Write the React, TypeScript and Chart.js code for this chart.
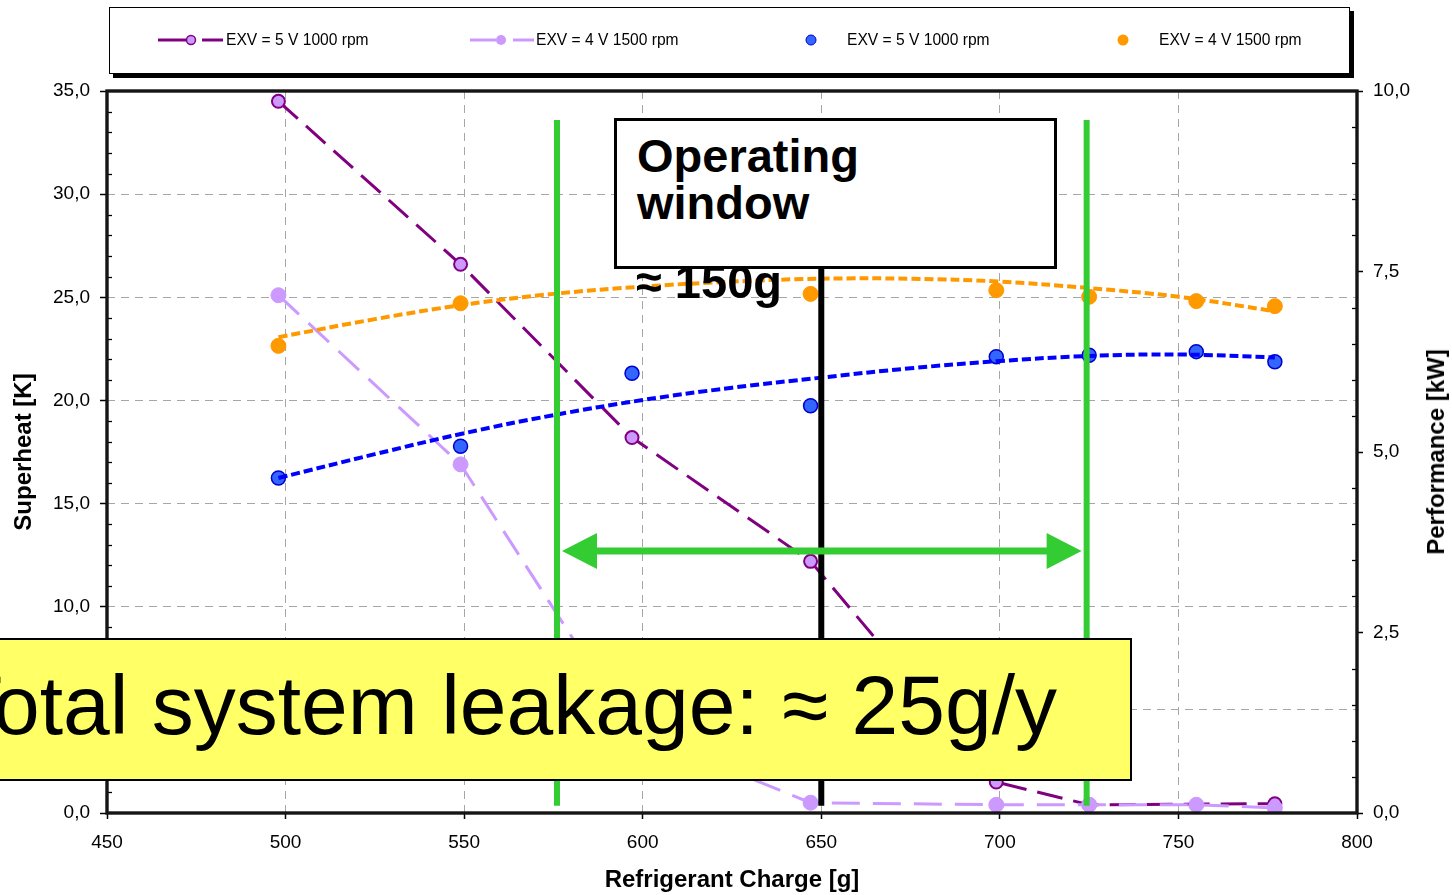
import React, { useEffect, useRef } from 'react';
import { Chart, registerables } from 'chart.js';

Chart.register(...registerables);

// ---------- data ----------
const chargeX = [498, 549, 597, 647, 699, 725, 755, 777];
const superheatExv5 = [34.5, 26.6, 18.2, 12.2, 1.5, 0.4, null, 0.45];
const superheatExv4 = [25.1, 16.9, 4.0, 0.5, 0.4, 0.4, 0.4, 0.25];
const performanceExv5 = [4.64, 5.08, 6.09, 5.64, 6.32, 6.34, 6.39, 6.25];
const performanceExv4 = [6.47, 7.06, null, 7.19, 7.24, 7.15, 7.09, 7.02];

const trendX = [498, 525, 550, 575, 600, 625, 650, 675, 700, 725, 750, 777];
const trendExv5 = [4.64, 4.97, 5.26, 5.51, 5.72, 5.89, 6.03, 6.16, 6.26, 6.33, 6.35, 6.31];
const trendExv4 = [6.59, 6.84, 7.04, 7.19, 7.29, 7.36, 7.4, 7.4, 7.36, 7.27, 7.15, 6.95];

const xTicks = [450, 500, 550, 600, 650, 700, 750, 800];
const superheatTicks = [0, 5, 10, 15, 20, 25, 30, 35];
const performanceTicks = [0, 2.5, 5, 7.5, 10];
const superheatMinorStep = 1;
const performanceMinorStep = 0.5;

const legendLabels = ['EXV = 5 V 1000 rpm', 'EXV = 4 V 1500 rpm', 'EXV = 5 V 1000 rpm', 'EXV = 4 V 1500 rpm'];

// operating window annotation (data units)
const windowLeft = 576;
const windowRight = 724.3;
const windowCenter = 650;
const windowTop = 33.6;
const windowBottom = 0.35;
const centerLineTop = 26.42;
const arrowLevel = 12.7;

const FONT = '"Liberation Sans", Arial, Helvetica, sans-serif';

const pts = (xs: number[], ys: (number | null)[]) =>
  xs.map((x, i) => ({ x, y: ys[i] })).filter((p) => p.y !== null) as { x: number; y: number }[];

const fmtComma = (v: number) => v.toFixed(1).replace('.', ',');

const overlayPlugin = {
  id: 'overlay',
  afterDatasetsDraw(chart: any) {
    const { ctx, chartArea: a, scales } = chart;
    const xs = scales.x;
    const ys = scales.y;
    const y2 = scales.y2;
    ctx.save();
    // minor ticks (inside)
    ctx.strokeStyle = '#000';
    ctx.lineWidth = 1.3;
    for (let v = superheatTicks[0]; v <= superheatTicks[superheatTicks.length - 1]; v += superheatMinorStep) {
      if (superheatTicks.includes(v)) continue;
      const py = Math.round(ys.getPixelForValue(v)) + 0.5;
      ctx.beginPath();
      ctx.moveTo(a.left, py);
      ctx.lineTo(a.left + 5, py);
      ctx.stroke();
    }
    for (let v = performanceTicks[0]; v <= performanceTicks[performanceTicks.length - 1]; v += performanceMinorStep) {
      if (performanceTicks.includes(v)) continue;
      const py = Math.round(y2.getPixelForValue(v)) + 0.5;
      ctx.beginPath();
      ctx.moveTo(a.right - 5, py);
      ctx.lineTo(a.right, py);
      ctx.stroke();
    }
    // frame
    ctx.lineWidth = 3.4;
    ctx.strokeStyle = '#151515';
    ctx.strokeRect(a.left, a.top, a.right - a.left, a.bottom - a.top);

    // green window lines
    ctx.strokeStyle = '#33CC33';
    ctx.lineWidth = 6;
    const gl = xs.getPixelForValue(windowLeft);
    const gr = xs.getPixelForValue(windowRight);
    for (const px of [gl, gr]) {
      ctx.beginPath();
      ctx.moveTo(px, ys.getPixelForValue(windowTop));
      ctx.lineTo(px, ys.getPixelForValue(windowBottom));
      ctx.stroke();
    }
    // black center line
    const bx = xs.getPixelForValue(windowCenter);
    ctx.strokeStyle = '#000';
    ctx.lineWidth = 6;
    ctx.beginPath();
    ctx.moveTo(bx, ys.getPixelForValue(centerLineTop));
    ctx.lineTo(bx, ys.getPixelForValue(windowBottom));
    ctx.stroke();

    // double-headed arrow
    const ay = ys.getPixelForValue(arrowLevel);
    const tipL = gl + 5;
    const tipR = gr - 5;
    const headLen = 35;
    const headHalf = 18;
    ctx.strokeStyle = '#33CC33';
    ctx.fillStyle = '#33CC33';
    ctx.lineWidth = 7;
    ctx.beginPath();
    ctx.moveTo(tipL + headLen - 2, ay);
    ctx.lineTo(tipR - headLen + 2, ay);
    ctx.stroke();
    ctx.beginPath();
    ctx.moveTo(tipL, ay);
    ctx.lineTo(tipL + headLen, ay - headHalf);
    ctx.lineTo(tipL + headLen, ay + headHalf);
    ctx.closePath();
    ctx.fill();
    ctx.beginPath();
    ctx.moveTo(tipR, ay);
    ctx.lineTo(tipR - headLen, ay - headHalf);
    ctx.lineTo(tipR - headLen, ay + headHalf);
    ctx.closePath();
    ctx.fill();
    ctx.restore();
  },
};

const gridCommon = {
  color: '#a6a6a6',
  lineWidth: 1,
  tickColor: '#000',
  tickWidth: 1.5,
  tickBorderDash: [],
};

export default function App() {
  const ref = useRef<HTMLCanvasElement>(null);

  useEffect(() => {
    Chart.defaults.font.family = FONT;
    Chart.defaults.color = '#000';
    const chart = new Chart(ref.current as HTMLCanvasElement, {
      type: 'scatter',
      data: {
        datasets: [
          {
            label: 'trend ' + legendLabels[2],
            data: pts(trendX, trendExv5),
            showLine: true,
            borderColor: '#0000FF',
            borderWidth: 4,
            borderDash: [9, 4],
            pointRadius: 0,
            tension: 0.4,
            order: 0,
            yAxisID: 'y2',
          },
          {
            label: 'trend ' + legendLabels[3],
            data: pts(trendX, trendExv4),
            showLine: true,
            borderColor: '#FF9900',
            borderWidth: 4,
            borderDash: [9, 4],
            pointRadius: 0,
            tension: 0.4,
            order: 0,
            yAxisID: 'y2',
          },
          {
            label: legendLabels[2],
            data: pts(chargeX, performanceExv5),
            showLine: false,
            pointRadius: 7,
            pointBackgroundColor: '#3366FF',
            pointBorderColor: '#0000CC',
            pointBorderWidth: 1.5,
            order: 1,
            yAxisID: 'y2',
          },
          {
            label: legendLabels[3],
            data: pts(chargeX, performanceExv4),
            showLine: false,
            pointRadius: 7.5,
            pointBackgroundColor: '#FF9900',
            pointBorderColor: '#FF9900',
            pointBorderWidth: 1,
            order: 1,
            yAxisID: 'y2',
          },
          {
            label: legendLabels[1],
            data: pts(chargeX, superheatExv4),
            showLine: true,
            borderColor: '#CC99FF',
            borderWidth: 3,
            borderDash: [28, 13],
            tension: 0,
            pointRadius: 7.5,
            pointBackgroundColor: '#CC99FF',
            pointBorderColor: '#CC99FF',
            pointBorderWidth: 1,
            order: 2,
            yAxisID: 'y',
          },
          {
            label: legendLabels[0],
            data: pts(chargeX, superheatExv5),
            showLine: true,
            borderColor: '#800080',
            borderWidth: 3,
            borderDash: [26, 11],
            tension: 0,
            pointRadius: 6.5,
            pointBackgroundColor: '#CC99FF',
            pointBorderColor: '#800080',
            pointBorderWidth: 2,
            order: 3,
            yAxisID: 'y',
          },
        ],
      },
      options: {
        animation: false,
        responsive: false,
        maintainAspectRatio: false,
        layout: { padding: { top: 91, left: 0, right: 0, bottom: 0 } },
        plugins: { legend: { display: false }, tooltip: { enabled: false } },
        scales: {
          x: {
            type: 'linear',
            position: 'bottom',
            min: xTicks[0],
            max: xTicks[xTicks.length - 1],
            afterBuildTicks: (s: any) => {
              s.ticks = xTicks.map((v) => ({ value: v }));
            },
            afterFit: (s: any) => {
              s.height = 82;
            },
            ticks: {
              callback: (v: any) => String(v),
              font: { size: 19 },
              color: '#000',
              padding: 12,
              maxRotation: 0,
              autoSkip: false,
            },
            grid: { ...gridCommon, tickLength: 6 },
            border: { display: false, dash: [8, 6] },
            title: {
              display: true,
              text: 'Refrigerant Charge [g]',
              font: { size: 24, weight: 'bold' },
              color: '#000',
              padding: { top: 0, bottom: 0 },
            },
          },
          y: {
            type: 'linear',
            position: 'left',
            min: superheatTicks[0],
            max: superheatTicks[superheatTicks.length - 1],
            afterBuildTicks: (s: any) => {
              s.ticks = superheatTicks.map((v) => ({ value: v }));
            },
            afterFit: (s: any) => {
              s.width = 107;
            },
            ticks: {
              callback: (v: any) => fmtComma(Number(v)),
              font: { size: 19 },
              color: '#000',
              padding: 10,
            },
            grid: { ...gridCommon, tickLength: 7 },
            border: { display: false, dash: [8, 6] },
            title: {
              display: true,
              text: 'Superheat [K]',
              font: { size: 24, weight: 'bold' },
              color: '#000',
              padding: { top: 10, bottom: 0 },
            },
          },
          y2: {
            type: 'linear',
            position: 'right',
            min: performanceTicks[0],
            max: performanceTicks[performanceTicks.length - 1],
            afterBuildTicks: (s: any) => {
              s.ticks = performanceTicks.map((v) => ({ value: v }));
            },
            afterFit: (s: any) => {
              s.width = 95;
            },
            ticks: {
              callback: (v: any) => fmtComma(Number(v)),
              font: { size: 19 },
              color: '#000',
              padding: 10,
            },
            grid: { ...gridCommon, drawOnChartArea: false, tickLength: 6 },
            border: { display: false },
          },
        },
      },
      plugins: [overlayPlugin],
    } as any);
    return () => chart.destroy();
  }, []);

  const legendText: React.CSSProperties = {
    position: 'absolute',
    top: 31,
    fontSize: 15.6,
    lineHeight: '18px',
    whiteSpace: 'nowrap',
    color: '#000',
  };

  return (
    <div
      style={{
        position: 'absolute',
        left: 0,
        top: 0,
        width: 1452,
        height: 895,
        overflow: 'hidden',
        background: '#fff',
        fontFamily: FONT,
      }}
    >
      <canvas ref={ref} width={1452} height={895} style={{ position: 'absolute', left: 0, top: 0 }} />

      {/* legend */}
      <div
        style={{
          position: 'absolute',
          left: 109,
          top: 7,
          width: 1241,
          height: 67,
          boxSizing: 'border-box',
          border: '1px solid #000',
          background: '#fff',
          boxShadow: '4px 4px 0 #000',
        }}
      />
      <svg width={1452} height={80} style={{ position: 'absolute', left: 0, top: 0 }}>
        <line x1={158} y1={40} x2={186} y2={40} stroke="#800080" strokeWidth={3} />
        <line x1={202} y1={40} x2={223} y2={40} stroke="#800080" strokeWidth={3} />
        <circle cx={191} cy={40} r={4.5} fill="#CC99FF" stroke="#800080" strokeWidth={1.5} />
        <line x1={470} y1={40} x2={496} y2={40} stroke="#CC99FF" strokeWidth={3} />
        <line x1={513} y1={40} x2={534} y2={40} stroke="#CC99FF" strokeWidth={3} />
        <circle cx={501} cy={40} r={5} fill="#CC99FF" />
        <circle cx={811} cy={40} r={5} fill="#3366FF" stroke="#0000CC" strokeWidth={1} />
        <circle cx={1123} cy={40} r={5.5} fill="#FF9900" />
      </svg>
      <div style={{ ...legendText, left: 226 }}>{legendLabels[0]}</div>
      <div style={{ ...legendText, left: 536 }}>{legendLabels[1]}</div>
      <div style={{ ...legendText, left: 847 }}>{legendLabels[2]}</div>
      <div style={{ ...legendText, left: 1159 }}>{legendLabels[3]}</div>

      {/* right axis title */}
      <div
        style={{
          position: 'absolute',
          left: 1436,
          top: 452,
          transform: 'translate(-50%, -50%) rotate(-90deg)',
          whiteSpace: 'nowrap',
          fontSize: 24,
          fontWeight: 'bold',
          lineHeight: '26px',
          color: '#000',
        }}
      >
        Performance [kW]
      </div>

      {/* operating window box */}
      <div
        style={{
          position: 'absolute',
          left: 614,
          top: 118,
          width: 443,
          height: 151,
          boxSizing: 'border-box',
          border: '3px solid #000',
          background: '#fff',
        }}
      />
      <div
        style={{
          position: 'absolute',
          left: 637,
          top: 132,
          fontSize: 47,
          fontWeight: 'bold',
          lineHeight: '47px',
          whiteSpace: 'pre',
          color: '#000',
        }}
      >
        {'Operating\nwindow'}
      </div>
      <div
        style={{
          position: 'absolute',
          left: 636,
          top: 258,
          fontSize: 47,
          fontWeight: 'bold',
          lineHeight: '47px',
          whiteSpace: 'nowrap',
          color: '#000',
        }}
      >
        ≈ 150g
      </div>

      {/* leakage box */}
      <div
        style={{
          position: 'absolute',
          left: -20,
          top: 638,
          width: 1152,
          height: 143,
          boxSizing: 'border-box',
          border: '2px solid #000',
          background: '#FFFF66',
        }}
      />
      <div
        style={{
          position: 'absolute',
          right: 1452 - 1057,
          top: 663,
          fontSize: 84,
          lineHeight: '84px',
          whiteSpace: 'nowrap',
          color: '#000',
        }}
      >
        Total system leakage: ≈ 25g/y
      </div>
    </div>
  );
}
